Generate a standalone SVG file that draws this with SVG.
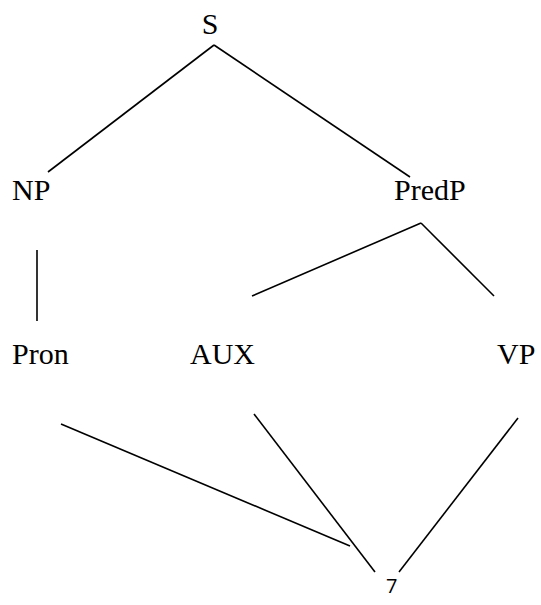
<svg xmlns="http://www.w3.org/2000/svg" width="541" height="605" viewBox="0 0 541 605">
  <style>
    .lbl { font-family: "Liberation Serif", "Times New Roman", serif; font-size: 30px; fill: #000; }
    .num { font-family: "Open Sans", "Liberation Sans", sans-serif; font-size: 20px; fill: #000; }
    .edge { stroke: #000; stroke-width: 1.6; fill: none; stroke-linecap: butt; }
  </style>
  <rect width="541" height="605" fill="#fff"/>
  <g id="connectors">
    <line class="edge" x1="214" y1="45" x2="48" y2="172"/>
    <line class="edge" x1="214" y1="45" x2="410" y2="177"/>
    <line class="edge" x1="37" y1="250" x2="37" y2="321"/>
    <line class="edge" x1="421" y1="223" x2="252" y2="296"/>
    <line class="edge" x1="421" y1="223" x2="494" y2="296"/>
    <line class="edge" x1="61" y1="424" x2="350" y2="546"/>
    <line class="edge" x1="254" y1="414" x2="375" y2="572"/>
    <line class="edge" x1="518" y1="418" x2="399" y2="572"/>
  </g>
  <g id="node-S"><text class="lbl" x="210" y="34" text-anchor="middle">S</text></g>
  <g id="node-NP"><text class="lbl" x="12" y="200">NP</text></g>
  <g id="node-PredP"><text class="lbl" x="394" y="200">PredP</text></g>
  <g id="node-Pron"><text class="lbl" x="12" y="364">Pron</text></g>
  <g id="node-AUX"><text class="lbl" x="190" y="364">AUX</text></g>
  <g id="node-VP"><text class="lbl" x="497" y="364">VP</text></g>
  <g id="node-7"><text class="num" x="386" y="593">7</text></g>
</svg>
